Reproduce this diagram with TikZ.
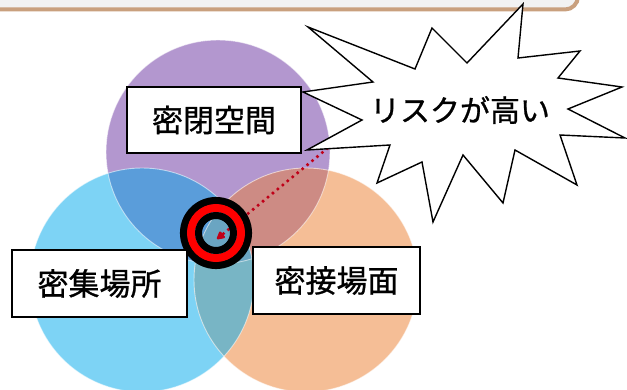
\documentclass[tikz,border=0pt]{standalone}
\usepackage{fontspec}
\newfontfamily\jpfont[FakeBold=0.9]{Noto Sans CJK JP}
\usetikzlibrary{arrows.meta}
\definecolor{cpurple}{HTML}{B397CF}
\definecolor{cblue}{HTML}{7DD3F5}
\definecolor{corange}{HTML}{F5BE96}
\definecolor{cpb}{HTML}{5A9DDA}
\definecolor{cpo}{HTML}{CD8B84}
\definecolor{cbo}{HTML}{78B5C5}
\definecolor{cpbo}{HTML}{6AA5C2}
\definecolor{bannerfill}{HTML}{F2F2F2}
\definecolor{bannerline}{HTML}{C9A07E}
\definecolor{riskred}{HTML}{C00018}
\definecolor{ringred}{HTML}{FF0000}
\tikzset{
  labelbox/.style={draw=black, line width=1.6pt, fill=white, inner sep=0pt,
    font=\jpfont\fontsize{31}{36}\selectfont},
  circedge/.style={draw=white, draw opacity=0.55, line width=0.9pt},
  riskline/.style={draw=riskred, line width=3.6pt, line cap=round,
    dash pattern=on 0pt off 6.4pt},
  startext/.style={font=\jpfont\fontsize{30}{36}\selectfont, inner sep=0pt},
  starshape/.style={draw=black, fill=white, line width=1.4pt, line join=miter},
}
\begin{document}
\begin{tikzpicture}[x=1pt,y=-1pt]
\useasboundingbox (0,0) rectangle (627,390);
% banner
\filldraw[fill=bannerfill, draw=bannerline, line width=4pt, rounded corners=13pt]
  (-20,-30) -- (-20,9.5) -- (578,9.5) -- (578,-30);
% circles
\fill[cpurple] (218,152) circle[radius=112pt];
\fill[cblue] (142,280) circle[radius=112pt];
\fill[corange] (306,280) circle[radius=112pt];
\begin{scope}
  \clip (218,152) circle[radius=112pt];
  \fill[cpb] (142,280) circle[radius=112pt];
  \fill[cpo] (306,280) circle[radius=112pt];
\end{scope}
\begin{scope}
  \clip (142,280) circle[radius=112pt];
  \fill[cbo] (306,280) circle[radius=112pt];
  \clip (306,280) circle[radius=112pt];
  \fill[cpbo] (218,152) circle[radius=112pt];
\end{scope}
\draw[circedge] (218,152) circle[radius=112pt];
\draw[circedge] (142,280) circle[radius=112pt];
\draw[circedge] (306,280) circle[radius=112pt];
% connector
\coordinate (lineend) at (362,120);
\coordinate (tip) at (217,239);
\node[circle, minimum size=72pt, inner sep=0pt] (target) at (216,233) {};
\draw[riskline, -{Triangle[length=9pt,width=9pt,round=false]}] (lineend) -- (tip);
% target rings
\draw[black, line width=7.5pt] (target.center) circle[radius=32.3pt];
\draw[ringred, line width=8pt] (target.center) circle[radius=25pt];
\draw[black, line width=7pt] (target.center) circle[radius=17.5pt];
% label boxes
\node[labelbox, minimum width=174pt, minimum height=66pt] (mippei) at (214,120) {密閉空間};
\node[labelbox, minimum width=175pt, minimum height=67pt] (misshu) at (99.5,283.5) {密集場所};
\node[labelbox, minimum width=167pt, minimum height=67pt] (missetsu) at (336.5,280.5) {密接場面};
% star burst
\draw[starshape] (308,27) -- (415,69) -- (432,28) -- (467,63) -- (523,4) -- (518,58)
  -- (580,51) -- (558,78) -- (622,87) -- (568,109) -- (625,138) -- (560,135)
  -- (577,185) -- (515,150) -- (503,203) -- (463,155) -- (433,222) -- (422,162)
  -- (377,183) -- (390,145) -- (307,150) -- (362,120) -- (303,92) -- (373,82) -- cycle;
\node[startext] (risk) at (460,110) {リスクが高い};
\end{tikzpicture}
\end{document}
